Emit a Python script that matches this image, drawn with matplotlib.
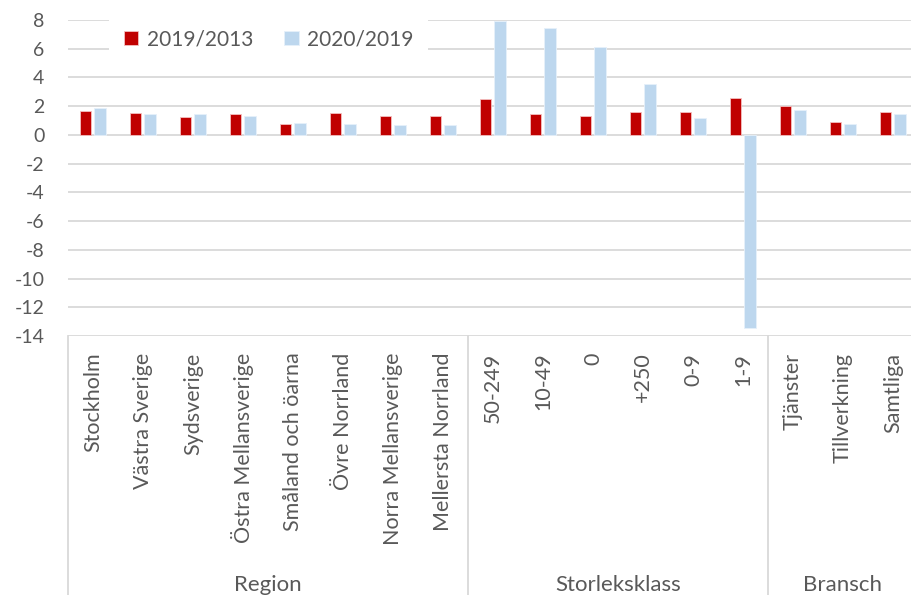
import matplotlib.pyplot as plt
import numpy as np

plt.rcParams['font.family'] = ['Lato', 'DejaVu Sans']
plt.rcParams['axes.unicode_minus'] = False

kategorier = ['Stockholm', 'Västra Sverige', 'Sydsverige', 'Östra Mellansverige',
              'Småland och öarna', 'Övre Norrland', 'Norra Mellansverige', 'Mellersta Norrland',
              '50-249', '10-49', '0', '+250', '0-9', '1-9',
              'Tjänster', 'Tillverkning', 'Samtliga']
v2019_2013 = [1.67, 1.50, 1.23, 1.44, 0.77, 1.50, 1.30, 1.34,
              2.50, 1.44, 1.30, 1.62, 1.62, 2.60,
              2.00, 0.88, 1.62]
v2020_2019 = [1.85, 1.46, 1.44, 1.32, 0.86, 0.77, 0.72, 0.72,
              7.95, 7.44, 6.12, 3.53, 1.20, -13.45,
              1.76, 0.74, 1.44]
grupper = ['Region', 'Storleksklass', 'Bransch']
grupp_storlek = [8, 6, 3]

grå = '#595959'
röd = '#C00000'
blå = '#BDD7EE'

fig = plt.figure(figsize=(9.12, 5.95), dpi=100)
ax = fig.add_axes([68/912, 259/595, 850/912, 316/595])

x = np.arange(len(kategorier))
b = 0.23
ax.bar(x - 0.145, v2019_2013, b, color=röd, edgecolor='#F4C0C0', linewidth=0.6,
       label='2019/2013', zorder=3)
ax.bar(x + 0.145, v2020_2019, b, color=blå, edgecolor='#E6F0FA', linewidth=0.6,
       label='2020/2019', zorder=3)

ax.set_xlim(-0.5, len(kategorier) - 0.5)
ax.set_ylim(-14, 8)
ax.set_yticks(range(-14, 9, 2))
ax.yaxis.grid(True, color='#D9D9D9', linewidth=1.3, zorder=0)
ax.set_axisbelow(True)
for s in ax.spines.values():
    s.set_visible(False)
ax.tick_params(axis='y', length=0, pad=17, labelsize=14, labelcolor=grå)
ax.set_xticks(x)
ax.set_xticklabels(kategorier, rotation=90)
ax.tick_params(axis='x', length=0, pad=12, labelsize=15.5, labelcolor=grå)

# gruppindelning under axeln
trans = ax.get_xaxis_transform()
gränser = np.concatenate([[0], np.cumsum(grupp_storlek)]) - 0.5
for g in gränser:
    ax.plot([g, g], [0, -0.85], transform=trans, color='#D9D9D9',
            linewidth=1.3, clip_on=False)
for i, namn in enumerate(grupper):
    mitt = (gränser[i] + gränser[i + 1]) / 2
    ax.text(mitt, -0.788, namn, transform=trans, ha='center', va='center',
            fontsize=16, color=grå)

leg = ax.legend(loc='upper left', bbox_to_anchor=(0.036, 1.05), ncol=2,
                frameon=True, fancybox=False, edgecolor='none', framealpha=1,
                fontsize=15, handlelength=0.7, handleheight=0.7,
                handletextpad=0.4, columnspacing=1.5, borderpad=0.7)
for t in leg.get_texts():
    t.set_color(grå)
leg.set_zorder(5)

fig.savefig('out.png', dpi=100)
